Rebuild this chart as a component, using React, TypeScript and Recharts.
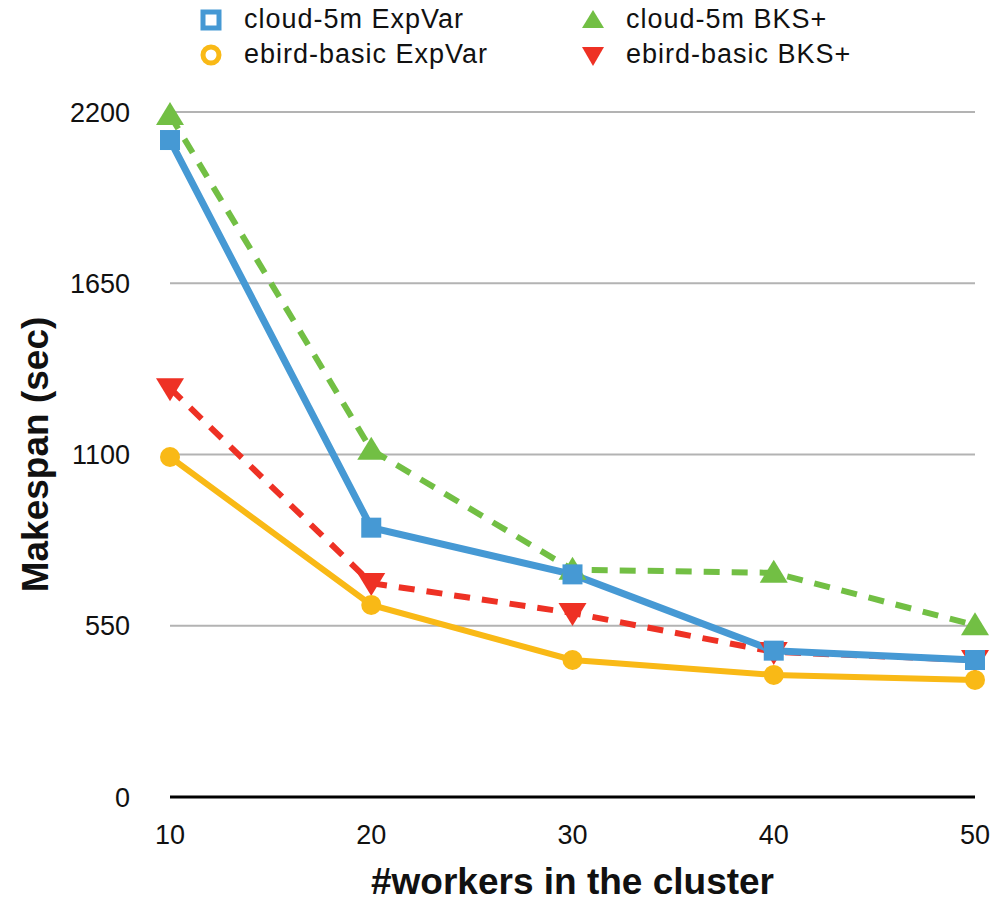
import React from 'react';
import {
  LineChart,
  Line,
  XAxis,
  YAxis,
  CartesianGrid,
} from 'recharts';

// ── Data ─────────────────────────────────────────────────────────────────────

const WORKERS = [10, 20, 30, 40, 50];
const CLOUD_EXPVAR = [2110, 865, 715, 470, 440];
const CLOUD_BKS = [2190, 1115, 730, 720, 552];
const EBIRD_EXPVAR = [1092, 617, 440, 392, 376];
const EBIRD_BKS = [1313, 687, 591, 466, 440];
const Y_TICKS = [0, 550, 1100, 1650, 2200];

const data = WORKERS.map((w, i) => ({
  w,
  cloudExp: CLOUD_EXPVAR[i],
  cloudBks: CLOUD_BKS[i],
  ebirdExp: EBIRD_EXPVAR[i],
  ebirdBks: EBIRD_BKS[i],
}));

const BLUE = '#4699d4';
const GREEN = '#72bf44';
const ORANGE = '#f9b916';
const RED = '#ee3124';

const FONT = '"Liberation Sans", Arial, sans-serif';

// ── Markers ──────────────────────────────────────────────────────────────────

type DotProps = { cx?: number; cy?: number };

const SquareDot = ({ cx = 0, cy = 0 }: DotProps) => (
  <rect x={cx - 10} y={cy - 10} width={20} height={20} fill={BLUE} />
);

const CircleDot = ({ cx = 0, cy = 0 }: DotProps) => (
  <circle cx={cx} cy={cy} r={10} fill={ORANGE} />
);

const UpDot = ({ cx = 0, cy = 0 }: DotProps) => (
  <path d={`M${cx},${cy - 13} L${cx + 14},${cy + 10} L${cx - 14},${cy + 10} Z`} fill={GREEN} />
);

const DownDot = ({ cx = 0, cy = 0 }: DotProps) => (
  <path d={`M${cx},${cy + 13} L${cx + 14},${cy - 10} L${cx - 14},${cy - 10} Z`} fill={RED} />
);

// ── Legend ───────────────────────────────────────────────────────────────────

const LEGEND = [
  { label: 'cloud-5m ExpVar', x: 198, y: 4, icon: 'square', color: BLUE },
  { label: 'cloud-5m BKS+', x: 580, y: 4, icon: 'up', color: GREEN },
  { label: 'ebird-basic ExpVar', x: 198, y: 39, icon: 'circle', color: ORANGE },
  { label: 'ebird-basic BKS+', x: 580, y: 39, icon: 'down', color: RED },
];

function LegendIcon({ icon, color }: { icon: string; color: string }) {
  return (
    <svg width={26} height={26} style={{ marginRight: 20 }}>
      {icon === 'square' && (
        <rect x={5} y={5} width={16} height={16} fill="none" stroke={color} strokeWidth={5} />
      )}
      {icon === 'circle' && (
        <circle cx={13} cy={13} r={8} fill="none" stroke={color} strokeWidth={5} />
      )}
      {icon === 'up' && <path d="M13,3 L24,21 L2,21 Z" fill={color} />}
      {icon === 'down' && <path d="M13,24 L24,5 L2,5 Z" fill={color} />}
    </svg>
  );
}

// ── Component ────────────────────────────────────────────────────────────────

export default function App() {
  return (
    <div style={{ position: 'absolute', left: 0, top: 0, width: 994, height: 906, background: '#fff', fontFamily: FONT }}>
      {LEGEND.map((l) => (
        <div
          key={l.label}
          style={{ position: 'absolute', left: l.x, top: l.y, display: 'flex', alignItems: 'center', fontSize: 27, letterSpacing: 1, color: '#111' }}
        >
          <LegendIcon icon={l.icon} color={l.color} />
          <span>{l.label}</span>
        </div>
      ))}
      <LineChart
        width={994}
        height={906}
        data={data}
        margin={{ top: 112, right: 19, bottom: 0, left: 70 }}
      >
        <CartesianGrid horizontal vertical={false} stroke="#b3b3b3" strokeWidth={2} />
        <XAxis
          dataKey="w"
          type="number"
          domain={[10, 50]}
          ticks={WORKERS}
          height={109}
          axisLine={{ stroke: '#000', strokeWidth: 3 }}
          tickLine={false}
          tickMargin={22}
          tick={{ fontSize: 27, fill: '#111', fontFamily: FONT }}
          label={{ value: '#workers in the cluster', position: 'insideBottom', offset: 12, style: { fontSize: 37, fontWeight: 'bold', fill: '#111', fontFamily: FONT } }}
        />
        <YAxis
          width={100}
          domain={[0, 2200]}
          ticks={Y_TICKS}
          axisLine={false}
          tickLine={false}
          tickMargin={34}
          tick={{ fontSize: 27, fill: '#111', fontFamily: FONT }}
          label={{ value: 'Makespan (sec)', angle: -90, position: 'insideLeft', offset: 0, dx: -35, style: { textAnchor: 'middle', fontSize: 37, fontWeight: 'bold', fill: '#111', fontFamily: FONT } }}
        />
        <Line dataKey="cloudBks" stroke={GREEN} strokeWidth={6} strokeDasharray="16 12" dot={<UpDot />} isAnimationActive={false} />
        <Line dataKey="ebirdBks" stroke={RED} strokeWidth={6} strokeDasharray="16 12" dot={<DownDot />} isAnimationActive={false} />
        <Line dataKey="ebirdExp" stroke={ORANGE} strokeWidth={6} dot={<CircleDot />} isAnimationActive={false} />
        <Line dataKey="cloudExp" stroke={BLUE} strokeWidth={7} dot={<SquareDot />} isAnimationActive={false} />
      </LineChart>
    </div>
  );
}
